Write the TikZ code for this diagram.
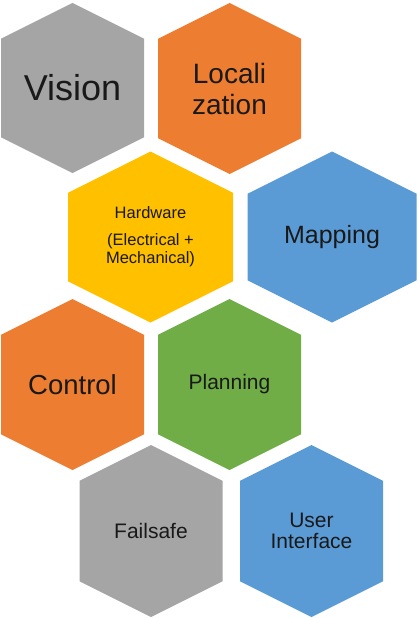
\documentclass[tikz,border=0pt]{standalone}
\usepackage{fontspec}
\setmainfont{Liberation Sans}
\usepackage{tikz}
\definecolor{hexgray}{HTML}{A5A5A5}
\definecolor{hexorange}{HTML}{ED7D31}
\definecolor{hexyellow}{HTML}{FFC000}
\definecolor{hexblue}{HTML}{5B9BD5}
\definecolor{hexgreen}{HTML}{70AD47}

\tikzset{
  hexlabel/.style={align=center, text=black!90, inner sep=0pt},
}

\begin{document}
\begin{tikzpicture}[x=1pt, y=-1pt]
\useasboundingbox (0,0) rectangle (420,618);

% cells: name / centre x / top / width / height / colour
\foreach \name/\cx/\top/\w/\h/\col in {
  vision/72.5/3/143/170/hexgray,
  local/229.5/3/143/171/hexorange,
  hardware/150.5/151.5/165/171/hexyellow,
  mapping/332/151.5/169/171/hexblue,
  control/72.5/299/143/171/hexorange,
  planning/229.5/299/143/171/hexgreen,
  failsafe/151/445/143/172/hexgray,
  ui/311.5/445/143/172/hexblue} {
  \fill[\col] (\cx,\top) -- ++({\w/2},{\w/4}) -- ++(0,{\h-\w/2})
    -- ++({-\w/2},{\w/4}) -- ++({-\w/2},{-\w/4}) -- ++(0,{-\h+\w/2}) -- cycle;
  \coordinate (\name) at (\cx,{\top+\h/2});
}

\node[hexlabel, font=\fontsize{36}{40}\selectfont] (visiontext) at (vision) {Vision};
\node[hexlabel, font=\fontsize{28}{31}\selectfont] (localtext) at (local) {Locali\\zation};
\node[hexlabel, font=\fontsize{16.5}{18.5}\selectfont] (hardwaretext) at (hardware) {Hardware\\[8pt](Electrical +\\Mechanical)};
\node[hexlabel, font=\fontsize{25}{28}\selectfont] (mappingtext) at (mapping) {Mapping};
\node[hexlabel, font=\fontsize{27.5}{30}\selectfont] (controltext) at (control) {Control};
\node[hexlabel, font=\fontsize{21}{24}\selectfont] (planningtext) at (planning) {Planning};
\node[hexlabel, font=\fontsize{21}{24}\selectfont] (failsafetext) at (failsafe) {Failsafe};
\node[hexlabel, font=\fontsize{21}{21.5}\selectfont] (uitext) at (ui) {User\\Interface};

\end{tikzpicture}
\end{document}
